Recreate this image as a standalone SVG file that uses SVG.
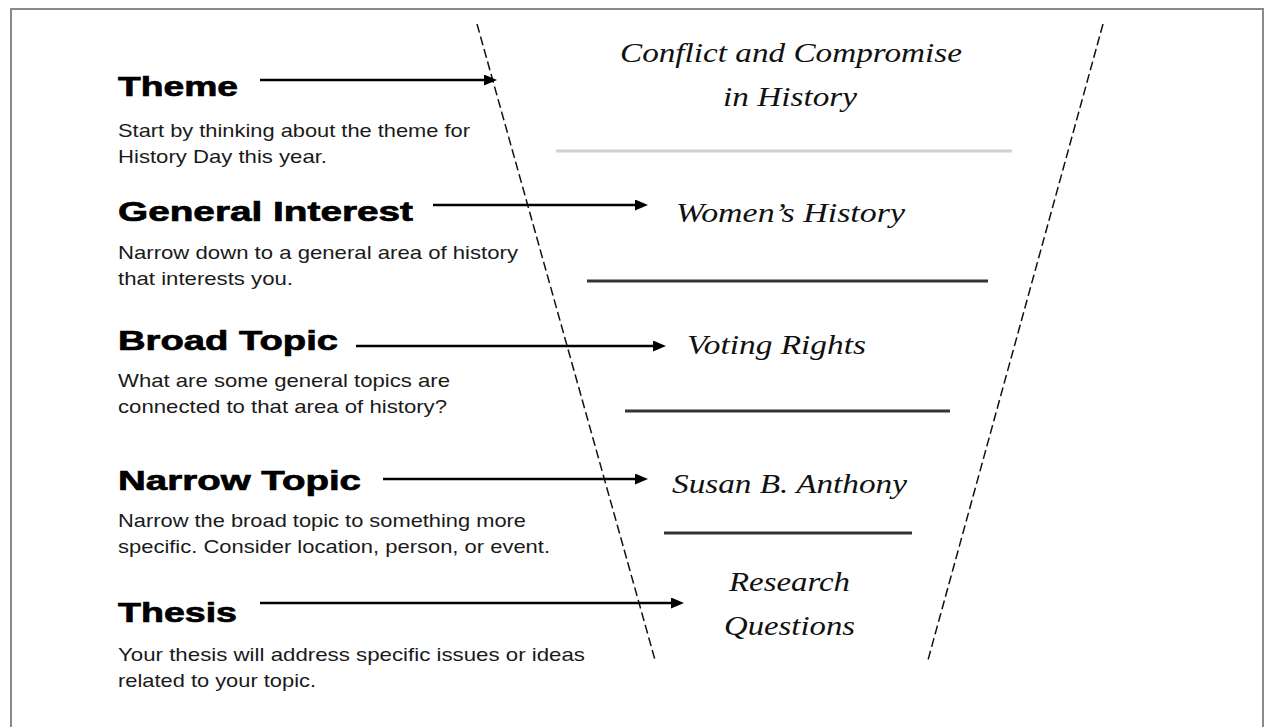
<svg xmlns="http://www.w3.org/2000/svg" width="1273" height="727" viewBox="0 0 1273 727">
<style>
.head{font-family:"Liberation Sans",Arial,sans-serif;font-weight:bold;font-size:28px;fill:#000;stroke:#000;stroke-width:0.7}
.desc{font-family:"Liberation Sans",Arial,sans-serif;font-size:19px;fill:#1a1a1a}
.lvl{font-family:"Liberation Serif","Times New Roman",serif;font-style:italic;font-size:27px;fill:#111}
.conn{stroke:#000;stroke-width:2.5;fill:none}
.dash{stroke:#111;stroke-width:1.5;stroke-dasharray:9 4;fill:none}
.sep{stroke:#333;stroke-width:3}
</style>
<defs>
<marker id="ah" markerUnits="userSpaceOnUse" markerWidth="14" markerHeight="12" refX="0" refY="5.5" orient="auto">
<path d="M0,0 L13,5.5 L0,11 Z" fill="#000"/>
</marker>
</defs>
<rect x="0" y="0" width="1273" height="727" fill="#fff"/>
<rect id="frame" x="11" y="9" width="1252" height="740" fill="none" stroke="#8a8a8a" stroke-width="2"/>

<g id="funnel">
<line class="dash" x1="477" y1="24" x2="655" y2="660"/>
<line class="dash" x1="1103" y1="24" x2="928" y2="660"/>
</g>

<g id="node-theme">
<text class="head" x="118" y="96" textLength="120" lengthAdjust="spacingAndGlyphs">Theme</text>
<text class="desc" x="118" y="137" textLength="352" lengthAdjust="spacingAndGlyphs">Start by thinking about the theme for</text>
<text class="desc" x="118" y="163" textLength="209" lengthAdjust="spacingAndGlyphs">History Day this year.</text>
</g>
<g id="node-general">
<text class="head" x="118" y="221" textLength="295" lengthAdjust="spacingAndGlyphs">General Interest</text>
<text class="desc" x="118" y="259" textLength="400" lengthAdjust="spacingAndGlyphs">Narrow down to a general area of history</text>
<text class="desc" x="118" y="285" textLength="175" lengthAdjust="spacingAndGlyphs">that interests you.</text>
</g>
<g id="node-broad">
<text class="head" x="118" y="350" textLength="220" lengthAdjust="spacingAndGlyphs">Broad Topic</text>
<text class="desc" x="118" y="387" textLength="332" lengthAdjust="spacingAndGlyphs">What are some general topics are</text>
<text class="desc" x="118" y="413" textLength="329" lengthAdjust="spacingAndGlyphs">connected to that area of history?</text>
</g>
<g id="node-narrow">
<text class="head" x="118" y="490" textLength="243" lengthAdjust="spacingAndGlyphs">Narrow Topic</text>
<text class="desc" x="118" y="527" textLength="408" lengthAdjust="spacingAndGlyphs">Narrow the broad topic to something more</text>
<text class="desc" x="118" y="553" textLength="432" lengthAdjust="spacingAndGlyphs">specific. Consider location, person, or event.</text>
</g>
<g id="node-thesis">
<text class="head" x="118" y="622" textLength="119" lengthAdjust="spacingAndGlyphs">Thesis</text>
<text class="desc" x="118" y="661" textLength="467" lengthAdjust="spacingAndGlyphs">Your thesis will address specific issues or ideas</text>
<text class="desc" x="118" y="687" textLength="198" lengthAdjust="spacingAndGlyphs">related to your topic.</text>
</g>

<g id="level-theme">
<text class="lvl" x="620" y="62" textLength="342" lengthAdjust="spacingAndGlyphs">Conflict and Compromise</text>
<text class="lvl" x="723" y="106" textLength="134" lengthAdjust="spacingAndGlyphs">in History</text>
<line x1="556" y1="151" x2="1012" y2="151" stroke="#cfcfcf" stroke-width="3"/>
</g>
<g id="level-general">
<text class="lvl" x="676" y="222" textLength="229" lengthAdjust="spacingAndGlyphs">Women’s History</text>
<line class="sep" x1="587" y1="281" x2="988" y2="281"/>
</g>
<g id="level-broad">
<text class="lvl" x="687" y="354" textLength="179" lengthAdjust="spacingAndGlyphs">Voting Rights</text>
<line class="sep" x1="625" y1="411" x2="950" y2="411"/>
</g>
<g id="level-narrow">
<text class="lvl" x="672" y="493" textLength="235" lengthAdjust="spacingAndGlyphs">Susan B. Anthony</text>
<line class="sep" x1="664" y1="533" x2="912" y2="533"/>
</g>
<g id="level-thesis">
<text class="lvl" x="729" y="591" textLength="121" lengthAdjust="spacingAndGlyphs">Research</text>
<text class="lvl" x="724" y="635" textLength="131" lengthAdjust="spacingAndGlyphs">Questions</text>
</g>

<g id="connectors">
<line class="conn" x1="260" y1="80" x2="484" y2="80" marker-end="url(#ah)"/>
<line class="conn" x1="433" y1="205" x2="635" y2="205" marker-end="url(#ah)"/>
<line class="conn" x1="356" y1="346" x2="653" y2="346" marker-end="url(#ah)"/>
<line class="conn" x1="383" y1="479" x2="635" y2="479" marker-end="url(#ah)"/>
<line class="conn" x1="260" y1="603" x2="671" y2="603" stroke="#555" marker-end="url(#ah)"/>
</g>
</svg>
